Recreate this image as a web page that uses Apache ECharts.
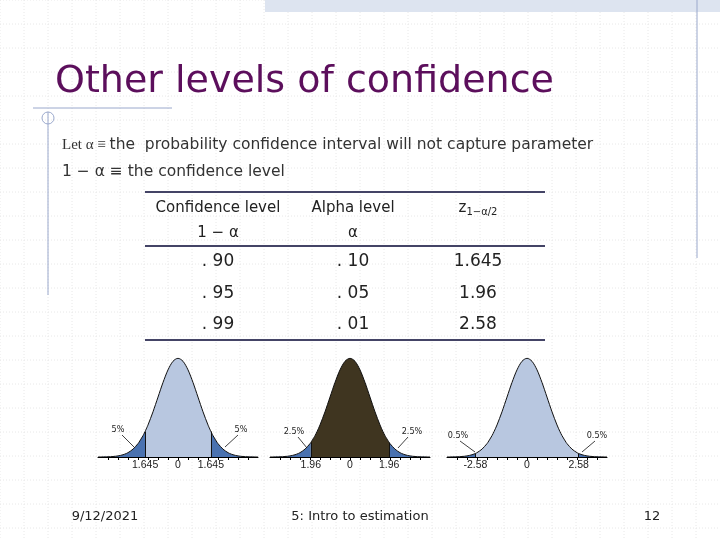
<!DOCTYPE html><html><head><meta charset="utf-8"><script src="https://cdn.jsdelivr.net/npm/echarts@6/dist/echarts.min.js"></script>
<style>body{margin:0}#c{width:720px;height:540px;background:#fff}</style></head><body><div id="c"></div><script>
const xs=[-4,-3.5,-3.25,-3,-2.75,-2.58,-2.5,-2.25,-2,-1.96,-1.75,-1.645,-1.5,-1.25,-1,-0.75,-0.5,-0.25,0,0.25,0.5,0.75,1,1.25,1.5,1.645,1.75,1.96,2,2.25,2.5,2.58,2.75,3,3.25,3.5,4];
const ys=[0.0001,0.0009,0.0020,0.0044,0.0091,0.0143,0.0175,0.0317,0.0540,0.0584,0.0863,0.1031,0.1295,0.1826,0.2420,0.3011,0.3521,0.3867,0.3989,0.3867,0.3521,0.3011,0.2420,0.1826,0.1295,0.1031,0.0863,0.0584,0.0540,0.0317,0.0175,0.0143,0.0091,0.0044,0.0020,0.0009,0.0001];
const critical=[1.645,1.96,2.58];
const centerLabels=['90%','95%','99%'];
const tailLabels=['5%','2.5%','0.5%'];
const tickLabels=[['1.645','0','1.645'],['1.96','0','1.96'],['-2.58','0','2.58']];
const levels=['. 90','. 95','. 99'];
const alphas=['. 10','. 05','. 01'];
const zs=['1.645','1.96','2.58'];
const centerColors=['#b8c7e0','#3f3520','#b8c7e0'];
const tailColor='#4a72b0';
const lefts=[98,270,447];
const pts=xs.map((x,i)=>[x,ys[i]]);
const grids=[],xA=[],yA=[],series=[];
critical.forEach((c,k)=>{
  grids.push({left:lefts[k],top:358,width:160,height:99});
  xA.push({type:'value',gridIndex:k,min:-4,max:4,interval:1,
    axisLine:{lineStyle:{color:'#000'}},axisTick:{customValues:[-3.5,-3,-2.5,-2,-1.5,-1,-0.5,0,0.5,1,1.5,2,2.5,3,3.5],length:3,inside:false,lineStyle:{color:'#000'}},
    axisLabel:{customValues:[-c,0,c],formatter:v=>tickLabels[k][[-c,0,c].indexOf(v)],fontSize:10.5,color:'#222',margin:3},splitLine:{show:false}});
  yA.push({type:'value',gridIndex:k,min:0,max:0.4,show:false});
  const parts=[pts.filter(p=>p[0]<=-c),pts.filter(p=>p[0]>=-c&&p[0]<=c),pts.filter(p=>p[0]>=c)];
  parts.forEach((d,j)=>series.push({type:'line',xAxisIndex:k,yAxisIndex:k,data:d,smooth:0.3,symbol:'none',
    lineStyle:{color:'#111',width:1},areaStyle:{color:j==1?centerColors[k]:tailColor,opacity:1},z:2,
    markLine:j==1?{silent:true,symbol:'none',label:{show:false},lineStyle:{color:'#111',width:1,type:'solid'},
      data:[[{coord:[-c,0]},{coord:[-c,ys[xs.indexOf(-c)]]}],[{coord:[c,0]},{coord:[c,ys[xs.indexOf(c)]]}]]}:undefined}));
});
const g=[];
for(let x=0;x<720;x+=24)g.push({type:'line',shape:{x1:x,y1:0,x2:x,y2:540},style:{stroke:'#e8e8e8',lineDash:[1,2]},z:-10});
for(let y=0;y<540;y+=24)g.push({type:'line',shape:{x1:0,y1:y,x2:720,y2:y},style:{stroke:'#e8e8e8',lineDash:[1,2]},z:-10});
g.push({type:'rect',shape:{x:265,y:0,width:455,height:12},style:{fill:'#dde4f0'}});
g.push({type:'line',shape:{x1:697,y1:0,x2:697,y2:258},style:{stroke:'#9aa8cc',lineWidth:1}});
g.push({type:'line',shape:{x1:48,y1:112,x2:48,y2:295},style:{stroke:'#9aa8cc',lineWidth:1}});
g.push({type:'line',shape:{x1:33,y1:108,x2:172,y2:108},style:{stroke:'#9aa8cc',lineWidth:1}});
g.push({type:'circle',shape:{cx:48,cy:118,r:6},style:{fill:'none',stroke:'#9aa8cc'}});
g.push({type:'text',left:55,top:63,style:{text:'Other levels of confidence',font:'38px "DejaVu Sans"',fill:'#5c0f5c'}});
g.push({type:'text',left:62,top:137,style:{rich:{a:{font:'15px "Liberation Serif"',fill:'#333'},b:{font:'15.5px "DejaVu Sans"',fill:'#333'}},text:'{a|Let α ≡ }{b|the  probability confidence interval will not capture parameter}'}});
g.push({type:'text',left:62,top:164,style:{rich:{b:{font:'15.5px "DejaVu Sans"',fill:'#333'}},text:'{b|1 − α ≡ the confidence level}'}});
[[145,545,192],[145,545,246],[145,545,340]].forEach(l=>g.push({type:'line',shape:{x1:l[0],y1:l[2],x2:l[1],y2:l[2]},style:{stroke:'#444466',lineWidth:2}}));
const T=(t,x,y,s,f)=>g.push({type:'text',x:x,y:y,style:{text:t,font:(s||15)+'px "'+(f||'DejaVu Sans')+'"',fill:'#222',align:'center',verticalAlign:'middle'}});
T('Confidence level',218,208);T('1 − α',218,233);T('Alpha level',353,208);T('α',353,233);
g.push({type:'text',x:478,y:208,style:{rich:{a:{font:'15px "DejaVu Sans"',fill:'#222'},s:{font:'10px "DejaVu Sans"',fill:'#222',verticalAlign:'bottom',padding:[8,0,0,0]}},text:'{a|z}{s|1−α/2}',align:'center',verticalAlign:'middle'}});
[262,294,325].forEach((y,i)=>{T(levels[i],218,y,17);T(alphas[i],353,y,17);T(zs[i],478,y,17);});
const cxs=[178,350,527];
centerLabels.forEach((t,k)=>T(t,cxs[k]+2,423,11,'DejaVu Sans Condensed'));
const tl=[[[118,430],[241,430]],[[294,432],[412,432]],[[458,436],[597,436]]];
tl.forEach((p,k)=>{p.forEach((q,j)=>{T(tailLabels[k],q[0],q[1],9,'DejaVu Sans Condensed');});});
const ar=[[[122,435,134,447],[238,435,225,447]],[[298,437,307,448],[408,437,398,448]],[[460,441,475,452],[595,441,582,452]]];
ar.forEach(a=>a.forEach(s=>g.push({type:'line',shape:{x1:s[0],y1:s[1],x2:s[2],y2:s[3]},style:{stroke:'#111',lineWidth:0.8},z:20})));
T('9/12/2021',105,517,13);T('5: Intro to estimation',360,517,13);T('12',652,517,13);
const ch=echarts.init(document.getElementById('c'));
ch.setOption({animation:false,grid:grids,xAxis:xA,yAxis:yA,series:series,graphic:g});
</script></body></html>
